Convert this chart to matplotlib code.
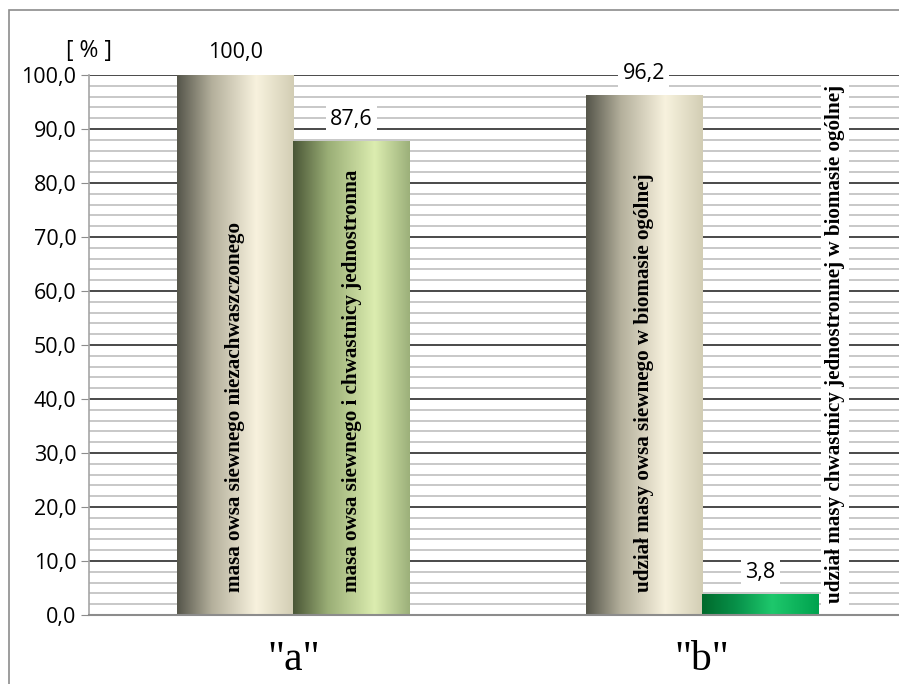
import numpy as np
import matplotlib
matplotlib.use("Agg")
import matplotlib.pyplot as plt
from matplotlib.colors import LinearSegmentedColormap
from matplotlib.patches import Rectangle

# Data
categories = ['"a"', '"b"']
values_oat = [100.0, 96.2]
values_weed = [87.6, 3.8]
labels_oat = ["masa owsa siewnego niezachwaszczonego",
              "udział masy owsa siewnego w biomasie ogólnej"]
labels_weed = ["masa owsa siewnego i chwastnicy jednostronna",
               "udział masy chwastnicy jednostronnej w biomasie ogólnej"]

# Gradient colour maps (left edge -> right edge of a bar)
cmap_beige = LinearSegmentedColormap.from_list(
    "beige", [(0, "#55554a"), (0.3, "#b4b09c"), (0.68, "#f8f2de"), (1, "#d2cdb4")])
cmap_olive = LinearSegmentedColormap.from_list(
    "olive", [(0, "#4a5636"), (0.3, "#9aae76"), (0.7, "#dcedb0"), (1, "#9cb07a")])
cmap_green = LinearSegmentedColormap.from_list(
    "green", [(0, "#006a2c"), (0.3, "#08924a"), (0.6, "#1ec86c"), (1, "#00a24e")])

fmt = lambda v: f"{v:.1f}".replace(".", ",")

fig = plt.figure(figsize=(8.99, 6.84), dpi=100)
fig.patch.set_facecolor("white")
# outer chart frame
fig.patches.append(Rectangle((9 / 899, -0.1), 1.2, (684 - 10) / 684 + 0.1,
                             transform=fig.transFigure, fill=False,
                             edgecolor="#8c8c8c", lw=1.2))

ax = fig.add_axes([89 / 899, 69 / 684, 810 / 899, 540 / 684])

x = np.arange(len(categories))
width = 0.285
bars_oat = ax.bar(x - width / 2, values_oat, width, zorder=2)
bars_weed = ax.bar(x + width / 2, values_weed, width, zorder=2)

def shade(patch, cmap):
    x0, y0 = patch.get_x(), patch.get_y()
    w, h = patch.get_width(), patch.get_height()
    grad = np.linspace(0, 1, 256).reshape(1, -1)
    ax.imshow(grad, extent=[x0, x0 + w, y0, y0 + h], aspect="auto",
              cmap=cmap, zorder=2, interpolation="bicubic")
    patch.set_visible(False)

for p in bars_oat:
    shade(p, cmap_beige)
shade(bars_weed[0], cmap_olive)
shade(bars_weed[1], cmap_green)

ax.set_xlim(-0.5, 1.482)
ax.set_ylim(0, 100)

# grid
ax.set_yticks(np.arange(0, 101, 10))
ax.set_yticks(np.arange(0, 101, 2), minor=True)
ax.grid(True, which="minor", axis="y", color="#c4c4c4", lw=1.3, zorder=0)
ax.grid(True, which="major", axis="y", color="#3c3c3c", lw=1.3, zorder=0.5)
ax.set_yticklabels([fmt(v) for v in np.arange(0, 101, 10)],
                   fontfamily="Open Sans", fontsize=15.5)
ax.tick_params(axis="y", which="major", length=6, color="#8c8c8c", pad=3)
ax.tick_params(axis="y", which="minor", length=0)

ax.set_xticks(x)
ax.set_xticklabels(categories, fontfamily="Liberation Serif", fontsize=30)
ax.tick_params(axis="x", length=0, pad=18)

for s in ["top", "right"]:
    ax.spines[s].set_visible(False)
ax.spines["left"].set_color("#a6a6a6")
ax.spines["bottom"].set_color("#8c8c8c")
ax.spines["left"].set_linewidth(1.2)
ax.spines["bottom"].set_linewidth(1.5)

# value labels above bars
for bars, vals in [(bars_oat, values_oat), (bars_weed, values_weed)]:
    for p, v in zip(bars, vals):
        ax.annotate(fmt(v), (p.get_x() + p.get_width() / 2, v),
                    xytext=(0, 16), textcoords="offset points",
                    ha="center", va="center", fontfamily="Open Sans",
                    fontsize=15.5, zorder=5, annotation_clip=False,
                    bbox=dict(boxstyle="square,pad=0.2", fc="white", ec="none"))

# vertical descriptions
serif = dict(fontfamily="Liberation Serif", fontweight="bold", fontsize=15.2,
             rotation=90, ha="center", va="bottom", zorder=6)
for p, txt in [(bars_oat[0], labels_oat[0]), (bars_weed[0], labels_weed[0]),
               (bars_oat[1], labels_oat[1])]:
    ax.text(p.get_x() + p.get_width() / 2, 4.3, txt, **serif)
ax.text(1.325, 2.2, labels_weed[1],
        bbox=dict(boxstyle="square,pad=0.2", fc="white", ec="none"), **serif)

ax.text(-0.5, 104.5, "[ % ]", fontfamily="Open Sans", fontsize=16.5,
        ha="center", va="center")

fig.savefig("out.png", dpi=100)
